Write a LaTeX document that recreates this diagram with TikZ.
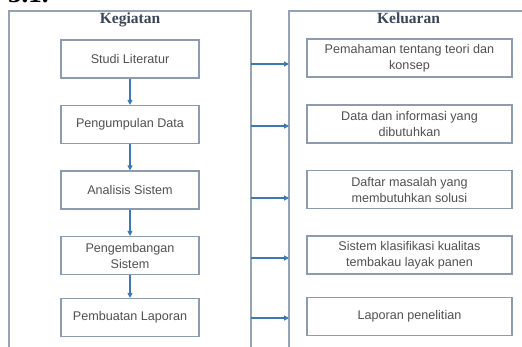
\documentclass[tikz,border=0pt]{standalone}
\usepackage{fontspec}
\setmainfont{Liberation Sans}
\newfontfamily\titlefont{Liberation Serif}
\usetikzlibrary{arrows.meta}
\definecolor{boxline}{HTML}{8C9BB2}
\definecolor{panelline}{HTML}{95A3B8}
\definecolor{arrowblue}{HTML}{3C78B4}
\definecolor{txt}{HTML}{505050}
\definecolor{ttl}{HTML}{3A4558}
\begin{document}
\begin{tikzpicture}[x=1pt,y=-1pt,
  panel/.style={draw=panelline, line width=1.4pt, anchor=north west, inner sep=0pt, outer sep=0pt},
  title/.style={font=\titlefont\bfseries\fontsize{15.5}{18}\selectfont, text=ttl, anchor=base},
  kbox/.style={draw=boxline, line width=1.2pt, minimum width=138pt, minimum height=38pt, inner sep=0pt,
               align=center, text=txt, font=\fontsize{12.6}{16}\selectfont},
  obox/.style={kbox, minimum width=205pt},
  flow/.style={draw=arrowblue, line width=1.2pt, -{Triangle[length=5pt,width=5pt]}}
]
\useasboundingbox (0,0) rectangle (522,347);
\clip (0,0) rectangle (522,347);
\node[anchor=base west, inner sep=0pt, font=\titlefont\bfseries\fontsize{27}{30}\selectfont] (hd) at (8,3) {3.1.};
\node[panel, minimum width=242pt, minimum height=380pt] (L) at (9,11) {};
\node[panel, minimum width=260pt, minimum height=380pt] (R) at (289,11) {};
\node[title] (tl) at (130,24) {Kegiatan};
\node[title] (tr) at (408.5,24) {Keluaran};
\node[kbox] (k1) at (130,59) {Studi Literatur};
\node[kbox] (k2) at (130,124.5) {Pengumpulan Data};
\node[kbox] (k3) at (130,190) {Analisis Sistem};
\node[kbox] (k4) at (130,255.5) {Pengembangan\\Sistem};
\node[kbox] (k5) at (130,317.5) {Pembuatan Laporan};
\node[obox] (o1) at (409.5,58) {Pemahaman tentang teori dan\\konsep};
\node[obox] (o2) at (409.5,124) {Data dan informasi yang\\dibutuhkan};
\node[obox] (o3) at (409.5,189.5) {Daftar masalah yang\\membutuhkan solusi};
\node[obox] (o4) at (409.5,255) {Sistem klasifikasi kualitas\\tembakau layak panen};
\node[obox] (o5) at (409.5,316.5) {Laporan penelitian};
\draw[flow] (k1) -- (k2);
\draw[flow] (k2) -- (k3);
\draw[flow] (k3) -- (k4);
\draw[flow] (k4) -- (k5);
\foreach \y in {64,126,198,258,318}{
  \draw[flow] (L.east |- 0,\y) -- (R.west |- 0,\y);
}
\end{tikzpicture}
\end{document}
